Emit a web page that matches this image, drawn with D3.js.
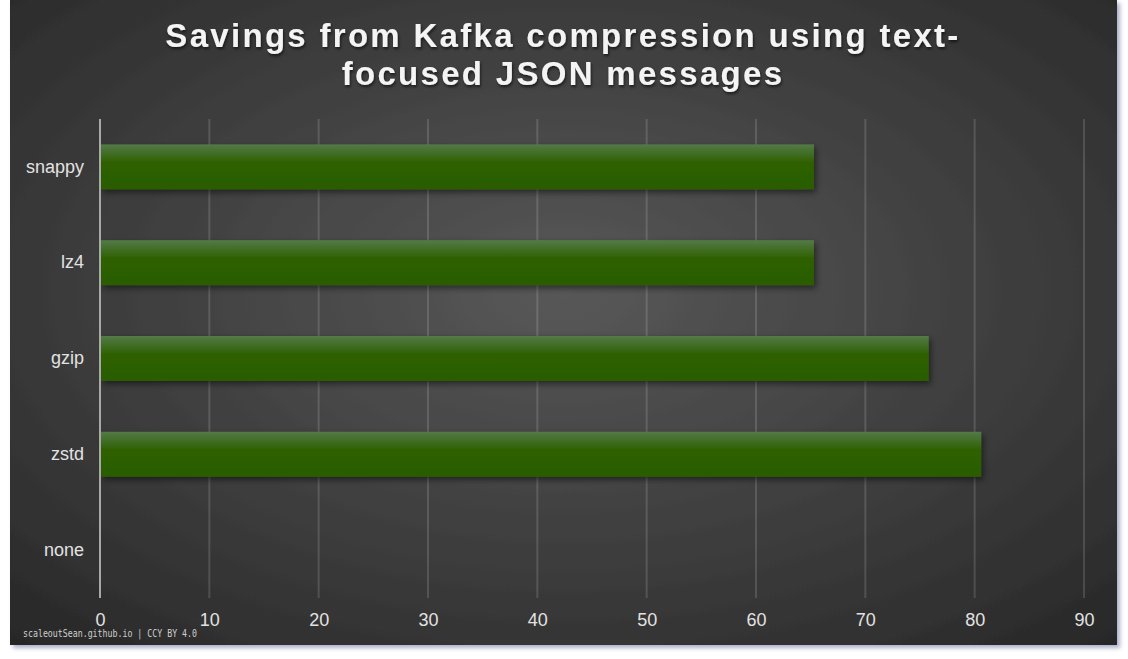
<!DOCTYPE html>
<html>
<head>
<meta charset="utf-8">
<script src="https://cdn.jsdelivr.net/npm/d3@7"></script>
<style>
  body { margin: 0; background: #fff; }
  svg { display: block; }
</style>
</head>
<body>
<svg id="chart" width="1128" height="659"></svg>
<script>
// chart data
var categories = ["snappy", "lz4", "gzip", "zstd", "none"]
var savings = [65.3, 65.3, 75.8, 80.6, 0]
var xTicks = [0, 10, 20, 30, 40, 50, 60, 70, 80, 90]
var titleLines = ["Savings from Kafka compression using text-", "focused JSON messages"]
var credit = "scaleoutSean.github.io | CCY BY 4.0"

var svg = d3.select("#chart")
var defs = svg.append("defs")

// panel background
var bg = defs.append("radialGradient").attr("id", "bg")
    .attr("cx", "50%").attr("cy", "45%").attr("r", "75%")
bg.append("stop").attr("offset", "0%").attr("stop-color", "#585858")
bg.append("stop").attr("offset", "100%").attr("stop-color", "#272727")

var panelShadow = defs.append("filter").attr("id", "pshadow")
    .attr("x", "-5%").attr("y", "-5%").attr("width", "110%").attr("height", "110%")
panelShadow.append("feDropShadow").attr("dx", 3).attr("dy", 3)
    .attr("stdDeviation", 2).attr("flood-color", "#8a8fb0").attr("flood-opacity", 0.7)

var barGrad = defs.append("linearGradient").attr("id", "bar")
    .attr("x1", 0).attr("y1", 0).attr("x2", 0).attr("y2", 1)
barGrad.append("stop").attr("offset", "0%").attr("stop-color", "#547a48")
barGrad.append("stop").attr("offset", "40%").attr("stop-color", "#2e6101")
barGrad.append("stop").attr("offset", "100%").attr("stop-color", "#2a5c00")

var barShadow = defs.append("filter").attr("id", "bshadow")
    .attr("x", "-5%").attr("y", "-20%").attr("width", "110%").attr("height", "150%")
barShadow.append("feDropShadow").attr("dx", 2).attr("dy", 3)
    .attr("stdDeviation", 3).attr("flood-color", "#000").attr("flood-opacity", 0.5)

var textShadow = defs.append("filter").attr("id", "tshadow")
    .attr("x", "-5%").attr("y", "-20%").attr("width", "110%").attr("height", "150%")
textShadow.append("feDropShadow").attr("dx", 1).attr("dy", 2)
    .attr("stdDeviation", 1.5).attr("flood-color", "#000").attr("flood-opacity", 0.6)

svg.append("rect")
    .attr("x", 10).attr("y", 0).attr("width", 1107).attr("height", 645)
    .attr("fill", "url(#bg)")
    .attr("filter", "url(#pshadow)")

// scales
var plotLeft = 100, plotRight = 1084, plotTop = 119, plotBottom = 598
var x = d3.scaleLinear().domain([0, 90]).range([plotLeft, plotRight])
var y = d3.scaleBand().domain(categories).range([plotTop, plotBottom]).paddingInner(0.53).paddingOuter(0.265)

// grid
svg.append("g").selectAll("line")
    .data(xTicks.slice(1))
    .enter().append("line")
    .attr("x1", function (d) { return x(d) }).attr("x2", function (d) { return x(d) })
    .attr("y1", plotTop).attr("y2", plotBottom)
    .attr("stroke", "#ffffff").attr("stroke-opacity", 0.14).attr("stroke-width", 2)

// bars
svg.append("g").selectAll("rect")
    .data(categories)
    .enter().append("rect")
    .attr("x", x(0) + 1)
    .attr("y", function (d) { return y(d) })
    .attr("width", function (d, i) { return Math.max(0, x(savings[i]) - x(0) - 1) })
    .attr("height", y.bandwidth())
    .attr("fill", "url(#bar)")
    .attr("filter", "url(#bshadow)")

// zero axis line
svg.append("line")
    .attr("x1", x(0)).attr("x2", x(0)).attr("y1", plotTop).attr("y2", plotBottom)
    .attr("stroke", "#a8a8a8").attr("stroke-width", 2)

// x axis
var xAxis = svg.append("g")
    .attr("transform", "translate(0," + (plotBottom + 15) + ")")
    .call(d3.axisBottom(x).tickValues(xTicks).tickSize(0).tickPadding(0))
xAxis.select(".domain").remove()
xAxis.selectAll("text")
    .attr("dy", "0.71em")
    .style("font-family", "Liberation Sans, Arial, sans-serif")
    .style("font-size", "18px")
    .attr("fill", "#e2e2e2")

// y axis
var yAxis = svg.append("g")
    .attr("transform", "translate(" + (plotLeft - 16) + ",0)")
    .call(d3.axisLeft(y).tickSize(0).tickPadding(0))
yAxis.select(".domain").remove()
yAxis.selectAll("text")
    .style("font-family", "Liberation Sans, Arial, sans-serif")
    .style("font-size", "18px")
    .attr("fill", "#e2e2e2")

// title
svg.append("g").selectAll("text")
    .data(titleLines)
    .enter().append("text")
    .attr("x", 563)
    .attr("y", function (d, i) { return 47 + i * 38 })
    .attr("text-anchor", "middle")
    .style("font-family", "Liberation Sans, Arial, sans-serif")
    .style("font-weight", "bold")
    .style("font-size", "33px")
    .style("letter-spacing", "2.3px")
    .attr("fill", "#f4f4f4")
    .attr("filter", "url(#tshadow)")
    .text(function (d) { return d })

// credit
svg.append("text")
    .attr("x", 23).attr("y", 637)
    .attr("textLength", 174)
    .attr("lengthAdjust", "spacingAndGlyphs")
    .style("font-family", "DejaVu Sans Mono, monospace")
    .style("font-size", "10px")
    .attr("fill", "#cfcfcf")
    .text(credit)
</script>
</body>
</html>
